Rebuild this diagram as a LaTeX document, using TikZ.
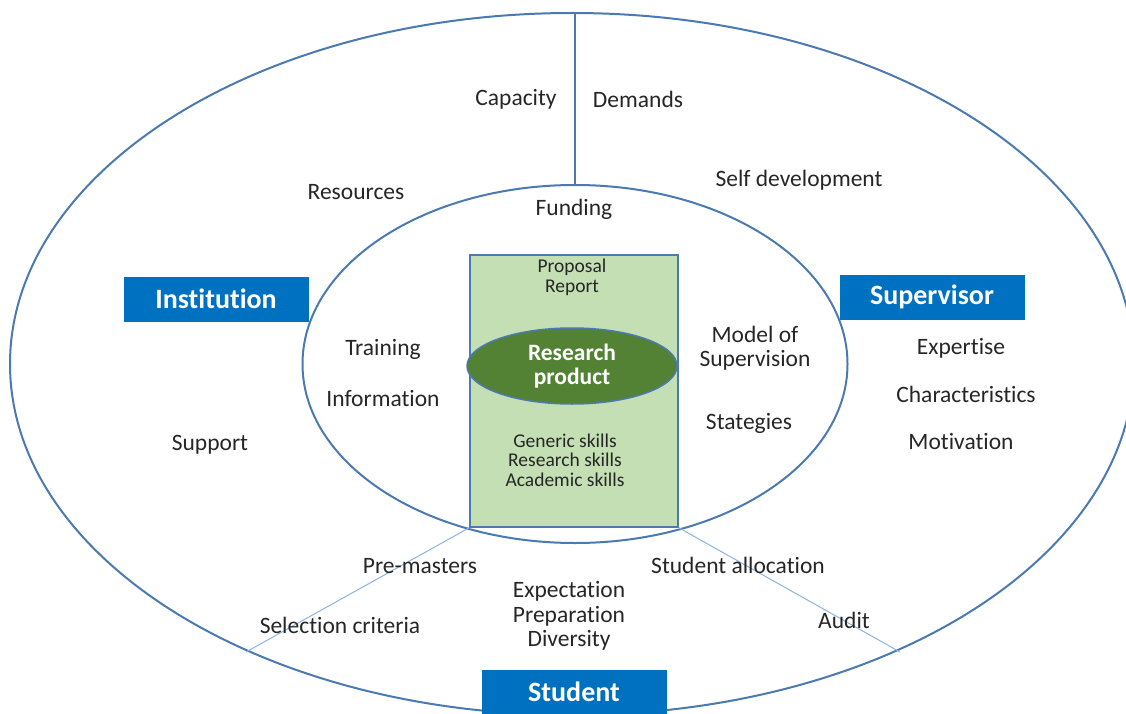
\documentclass[tikz,border=0pt]{standalone}
\usepackage{fontspec}
\setmainfont{Carlito}[Ligatures={NoCommon}]
\usetikzlibrary{shapes.geometric}
\definecolor{rimblue}{HTML}{4A7AB0}
\definecolor{boxblue}{HTML}{0070C0}
\definecolor{palegreen}{HTML}{C4DFB4}
\definecolor{darkgreen}{HTML}{548235}
\definecolor{spokeblue}{HTML}{8DB3E2}
\tikzset{
  lbl/.style={font=\fontsize{23.5}{24.5}\selectfont, text=black!85, align=center, inner sep=0},
  small/.style={font=\fontsize{19.5}{19.7}\selectfont, text=black!85, align=center, inner sep=0},
  role/.style={fill=boxblue, text=white, font=\bfseries\fontsize{28}{30}\selectfont,
    minimum width=185, minimum height=45, inner sep=0},
  ring/.style={ellipse, draw=rimblue, line width=2pt, inner sep=0},
}

\begin{document}
\begin{tikzpicture}[x=1pt,y=-1pt]
			%%%%% START %%%%%
			\clip (0,0) rectangle (1126,714);
			
			\node[ring, minimum width=1124, minimum height=702] (outer) at (572,364) {};
			\node[ring, minimum width=545, minimum height=358] (inner) at (575,364) {};
			
			\coordinate (topcut) at (inner.north |- outer.north);
			\coordinate (selcut) at (246,652);
			\coordinate (audcut) at (900,652);
			
			\draw[rimblue, line width=1.5pt] (topcut) -- (inner.north);
			
			\node[draw=rimblue, line width=1.5pt, fill=palegreen, minimum width=208, minimum height=272, inner sep=0] (prod) at (574,391) {};
			\draw[spokeblue, line width=1pt] (prod.south west) -- (selcut);
			\draw[spokeblue, line width=1pt] (prod.south east) -- (audcut);
			
			\node[ellipse, draw=rimblue, line width=1.5pt, fill=darkgreen, minimum width=210, minimum height=76, inner sep=0,
			  text=white, align=center, font=\bfseries\fontsize{23.5}{24}\selectfont] (core) at (572,366) {Research\\product};
			
			% roles
			\node[role] (inst) at (216,299) {Institution};
			\node[role] (supv) at (932,297) {Supervisor};
			\node[role, minimum height=44] (stud) at (574,692) {Student};
			
			% outer ring
			\node[lbl] (capacity) at (516,99) {Capacity};
			\node[lbl] (demands) at (638,99) {Demands};
			\node[lbl] (resources) at (356,192) {Resources};
			\node[lbl] (selfdev) at (799,180) {Self development};
			\node[lbl] (support) at (210,445) {Support};
			\node[lbl] (expertise) at (961,348) {Expertise};
			\node[lbl] (charact) at (966,394) {Characteristics};
			\node[lbl] (motiv) at (961,441) {Motivation};
			\node[lbl] (premast) at (420,566) {Pre-masters};
			\node[lbl] (selcrit) at (340,625) {Selection criteria};
			\node[lbl] (expect) at (569,616) {Expectation\\Preparation\\Diversity};
			\node[lbl] (alloc) at (738,565) {Student allocation};
			\node[lbl] (audit) at (844,620) {Audit};
			
			% inner ring
			\node[lbl] (funding) at (574,209) {Funding};
			\node[lbl] (training) at (383,349) {Training};
			\node[lbl] (inform) at (383,398) {Information};
			\node[lbl] (model) at (755,348) {Model of\\Supervision};
			\node[lbl] (strat) at (749,423) {Stategies};
			
			% product box
			\node[small] (proposal) at (572,277) {Proposal\\Report};
			\node[small] (skills) at (565,460) {Generic skills\\Research skills\\Academic skills};
			%%%%% END %%%%%
\end{tikzpicture}
\end{document}
